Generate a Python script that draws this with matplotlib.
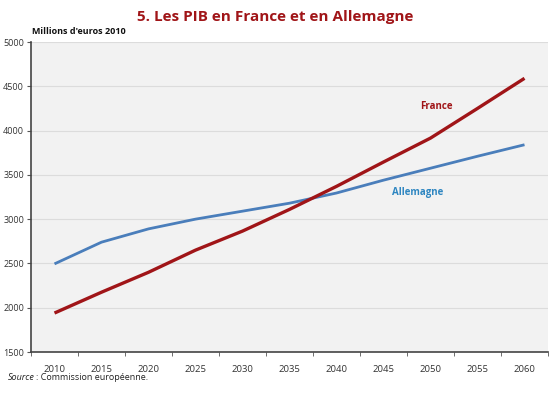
import matplotlib
matplotlib.use("Agg")
import matplotlib.pyplot as plt
import numpy as np

years = [2010, 2015, 2020, 2025, 2030, 2035, 2040, 2045, 2050, 2055, 2060]
france = [1940, 2175, 2400, 2650, 2865, 3110, 3370, 3645, 3915, 4250, 4590]
allemagne = [2495, 2740, 2890, 3000, 3090, 3180, 3295, 3440, 3575, 3710, 3840]
yticks = [1500, 2000, 2500, 3000, 3500, 4000, 4500, 5000]

plt.rcParams['font.family'] = ['Open Sans', 'DejaVu Sans']

fig = plt.figure(figsize=(5.5, 3.94), dpi=100)
ax = fig.add_axes([31/550, 1 - 352/394, 517/550, 310/394])
ax.set_facecolor('#f2f2f2')

x = np.arange(len(years))
ax.plot(x, allemagne, color='#4a7ebb', lw=2.0, solid_capstyle='butt')
ax.plot(x, france, color='#a01518', lw=2.4, solid_capstyle='butt')

ax.set_xlim(-0.5, len(years) - 0.5)
ax.set_ylim(1500, 5000)
ax.set_yticks(yticks)
ax.set_yticklabels([str(v) for v in yticks], fontsize=6.5, color='#333333')
ax.set_xticks(x)
ax.set_xticklabels([str(y) for y in years], fontsize=6.8, color='#333333')
ax.set_xticks(np.arange(len(years) + 1) - 0.5, minor=True)
ax.tick_params(axis='x', which='major', length=0, pad=9)
ax.tick_params(axis='x', which='minor', length=3, color='#555555')
ax.tick_params(axis='y', length=3, color='#555555', pad=2)

ax.grid(axis='y', color='#dcdcdc', lw=0.8)
ax.set_axisbelow(True)
for s in ['top', 'right']:
    ax.spines[s].set_visible(False)
for s in ['left', 'bottom']:
    ax.spines[s].set_color('#444444')
    ax.spines[s].set_linewidth(1.2)

ax.text(7.78, 4277, 'France', color='#a01518', fontsize=7, fontweight='bold',
        va='center')
ax.text(7.18, 3306, 'Allemagne', color='#2e86c1', fontsize=7, fontweight='bold',
        va='center')

fig.text(0.5, 0.975, '5. Les PIB en France et en Allemagne', ha='center', va='top',
         color='#a01518', fontsize=11, fontweight='bold')
fig.text(32/550, 1 - 32/394, "Millions d'euros 2010", ha='left', va='center',
         fontsize=6.5, fontweight='bold', color='#111111')
fig.text(8/550, 1 - 377/394, 'Source', ha='left', va='center', fontsize=6.5,
         style='italic', color='#222222')
fig.text(36/550, 1 - 377/394, ': Commission européenne.', ha='left', va='center',
         fontsize=6.5, color='#222222')

fig.savefig('out.png', dpi=100)
